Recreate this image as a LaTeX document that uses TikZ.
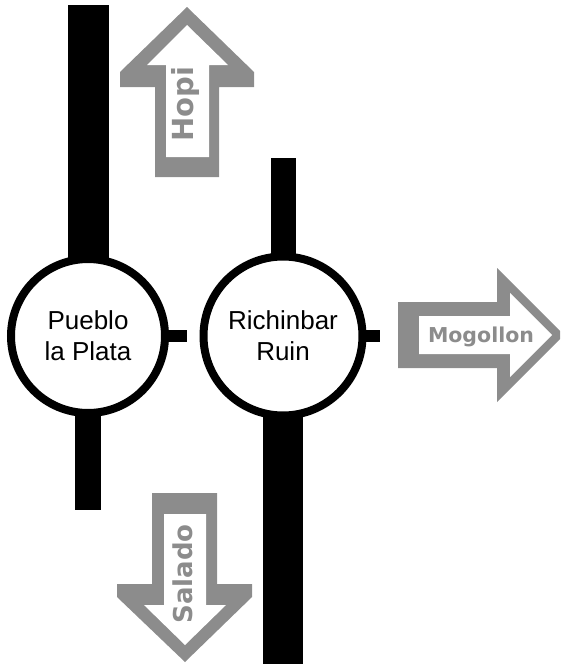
\documentclass[tikz,border=0pt]{standalone}
\usepackage{fontspec}
\setmainfont{Liberation Sans}
\newfontfamily\tagfont{DejaVu Sans}
\definecolor{arrowgray}{RGB}{140,140,140}
\tikzset{
	site/.style={circle,draw,line width=8pt,fill=white,inner sep=0pt,outer sep=0pt,align=center,font=\fontsize{26}{31}\selectfont},
	bar/.style={line width=#1,line cap=butt},
	tab/.style={line width=12pt},
	tag/.style={text=arrowgray,font=\fontsize{#1}{#1}\selectfont\tagfont\bfseries,inner sep=0pt,anchor=base}
}
\begin{document}
\begin{tikzpicture}[x=1pt,y=1pt,yscale=-1]
		\useasboundingbox (0,0) rectangle (560,664);
		\clip (0,0) rectangle (560,664);

		\node[site,minimum size=154pt] (pueblo) at (88,336) {Pueblo\\la Plata};
		\node[site,minimum size=159pt] (richinbar) at (283,336) {Richinbar\\Ruin};

		\coordinate (pueblotop) at (88,5);
		\coordinate (pueblobot) at (88,510);
		\coordinate (richtop) at (283,158);
		\coordinate (richbot) at (283,664);
		\coordinate (pueblotab) at (187,336);
		\coordinate (richtab) at (380,336);

		\draw[bar=41pt] (pueblotop) -- (pueblo.north);
		\draw[bar=26pt] (pueblo.south) -- (pueblobot);
		\draw[bar=25pt] (richtop) -- (richinbar.north);
		\draw[bar=40pt] (richinbar.south) -- (richbot);
		\draw[tab] (pueblo.east) -- (pueblotab);
		\draw[tab] (richinbar.east) -- (richtab);

		%Hopi
		\fill[arrowgray] (155,177) -- (155,87) -- (120,87) -- (120,72) -- (187,7) -- (254,72) -- (254,87) -- (219,87) -- (219,177) -- cycle;
		\fill[white] (166,157) -- (166,65) -- (147,65) -- (187,25) -- (228,65) -- (209,65) -- (209,157) -- cycle;
		\node[tag=29,rotate=90] (hopi) at (193,104) {Hopi};

		%Salado
		\fill[arrowgray] (152,493) -- (217,493) -- (217,584) -- (252,584) -- (252,597) -- (185,662) -- (117,597) -- (117,584) -- (152,584) -- cycle;
		\fill[white] (164,514) -- (206,514) -- (206,605) -- (226,605) -- (185,645) -- (144,605) -- (164,605) -- cycle;
		\node[tag=26,rotate=90] (salado) at (192,574) {Salado};

		%Mogollon
		\fill[arrowgray] (398,302) -- (497,302) -- (497,268) -- (564,335) -- (497,402) -- (497,368) -- (398,368) -- cycle;
		\fill[white] (419,316) -- (510,316) -- (510,293) -- (552,335) -- (510,377) -- (510,354) -- (419,354) -- cycle;
		\node[tag=20.5] (mogollon) at (481,342) {Mogollon};
\end{tikzpicture}
\end{document}
